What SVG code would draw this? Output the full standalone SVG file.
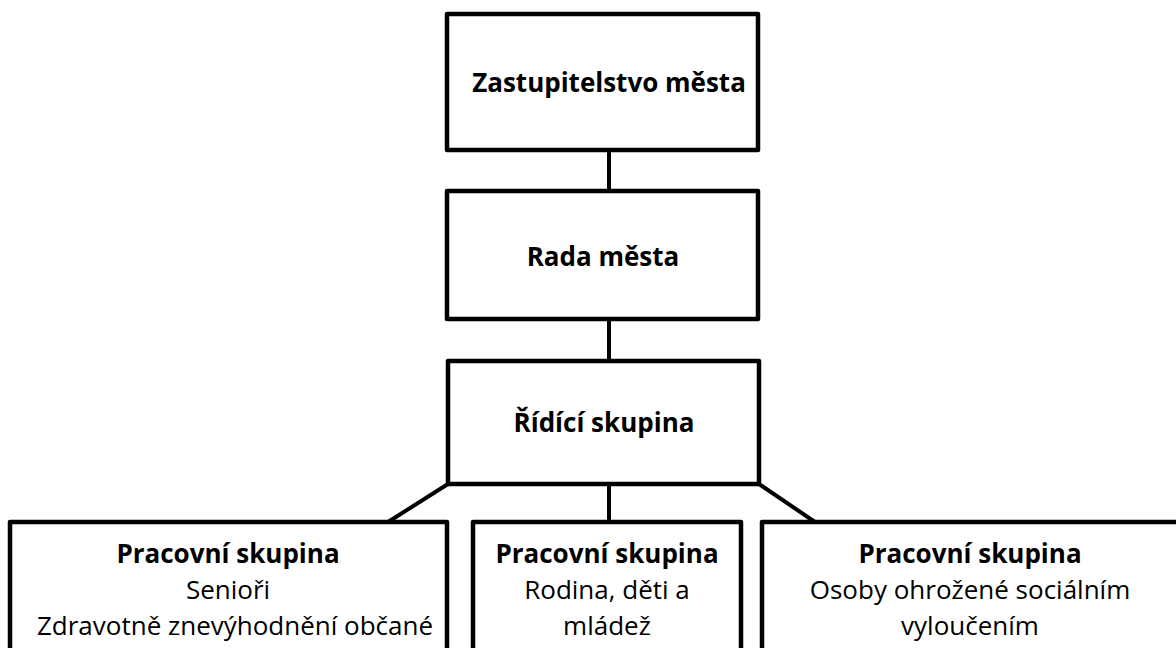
<svg xmlns="http://www.w3.org/2000/svg" width="1176" height="648" viewBox="0 0 1176 648">
<style>
.box{fill:#fff;stroke:#000;stroke-width:4.5;stroke-linejoin:round}
.con{fill:none;stroke:#000;stroke-width:4}
text{font-family:"Open Sans","Liberation Sans",sans-serif;font-size:26px;fill:#000;text-anchor:middle}
.b{font-weight:bold}
</style>
<rect width="1176" height="648" fill="#fff"/>
<g id="connectors">
<line class="con" x1="609" y1="150" x2="609" y2="191"/>
<line class="con" x1="609" y1="319" x2="609" y2="361"/>
<line class="con" x1="609" y1="484" x2="609" y2="522"/>
<line class="con" x1="448" y1="484" x2="388" y2="522"/>
<line class="con" x1="759" y1="484" x2="815" y2="522"/>
</g>
<g id="zastupitelstvo">
<rect class="box" x="447" y="14" width="311" height="136"/>
<text class="b" x="609" y="92">Zastupitelstvo města</text>
</g>
<g id="rada">
<rect class="box" x="447" y="191" width="311" height="128"/>
<text class="b" x="603" y="266">Rada města</text>
</g>
<g id="ridici">
<rect class="box" x="448" y="361" width="311" height="123"/>
<text class="b" x="604" y="432">Řídící skupina</text>
</g>
<g id="ps-seniori">
<rect class="box" x="10" y="522" width="437" height="140"/>
<text class="b" x="228" y="563">Pracovní skupina</text>
<text x="228" y="599">Senioři</text>
<text x="235" y="635">Zdravotně znevýhodnění občané</text>
</g>
<g id="ps-rodina">
<rect class="box" x="473" y="522" width="268" height="140"/>
<text class="b" x="607" y="563">Pracovní skupina</text>
<text x="607" y="599">Rodina, děti a</text>
<text x="607" y="635">mládež</text>
</g>
<g id="ps-osoby">
<rect class="box" x="762" y="522" width="420" height="140"/>
<text class="b" x="970" y="563">Pracovní skupina</text>
<text x="970" y="599">Osoby ohrožené sociálním</text>
<text x="970" y="635">vyloučením</text>
</g>
</svg>
